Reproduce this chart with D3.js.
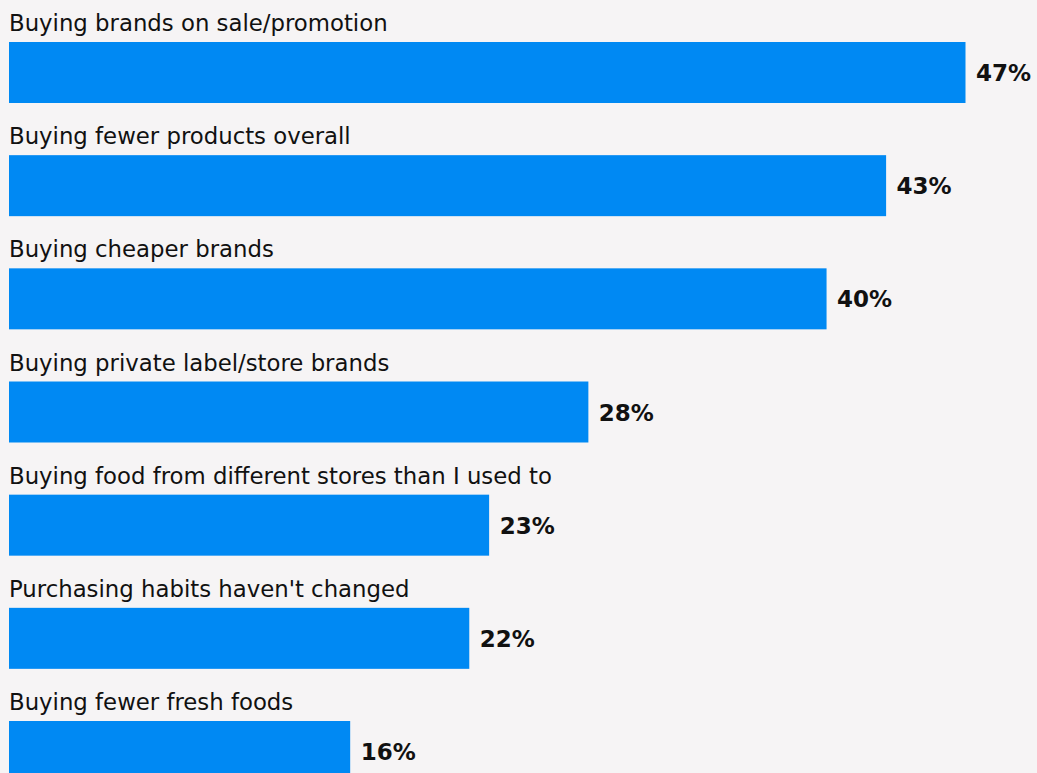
<!DOCTYPE html>
<html>
<head>
<meta charset="utf-8">
<script src="https://cdn.jsdelivr.net/npm/d3@7"></script>
<style>
  html, body { margin: 0; padding: 0; background: #f6f4f5; }
  svg { display: block; }
</style>
</head>
<body>
<svg id="chart" width="1037" height="773"></svg>
<script>
// Survey answers: how shoppers changed their food purchasing
const categories = [
  "Buying brands on sale/promotion",
  "Buying fewer products overall",
  "Buying cheaper brands",
  "Buying private label/store brands",
  "Buying food from different stores than I used to",
  "Purchasing habits haven't changed",
  "Buying fewer fresh foods"
];
const values = [47, 43, 40, 28, 23, 22, 16];
const valueLabels = ["47%", "43%", "40%", "28%", "23%", "22%", "16%"];

const width = 1037, height = 773;
const barLeft = 9;
const barColor = "#0089f3";
const fontFamily = "'DejaVu Sans', sans-serif";

const svg = d3.select("#chart");
svg.append("rect").attr("width", width).attr("height", height).attr("fill", "#f6f4f5");

const rows = categories.map((c, i) => ({ category: c, value: values[i], label: valueLabels[i] }));

const y = d3.scaleBand()
  .domain(categories)
  .range([42, 782])
  .paddingInner(0.461)
  .paddingOuter(0);

const x = d3.scaleLinear()
  .domain([0, 47])
  .range([32.6, 965.5]);

const g = svg.append("g");

const row = g.selectAll("g.row").data(rows).join("g").attr("class", "row");

row.append("rect")
  .attr("x", barLeft)
  .attr("y", d => y(d.category))
  .attr("width", d => x(d.value) - barLeft)
  .attr("height", y.bandwidth())
  .attr("fill", barColor);

row.append("text")
  .attr("x", barLeft)
  .attr("y", d => y(d.category) - 11)
  .attr("font-family", fontFamily)
  .attr("font-size", 22.8)
  .attr("fill", "#111")
  .text(d => d.category);

row.append("text")
  .attr("x", d => x(d.value) + 10.5)
  .attr("y", d => y(d.category) + y.bandwidth() / 2 + 8.5)
  .attr("font-family", fontFamily)
  .attr("font-weight", 700)
  .attr("font-size", 23)
  .attr("fill", "#111")
  .text(d => d.label);
</script>
</body>
</html>
